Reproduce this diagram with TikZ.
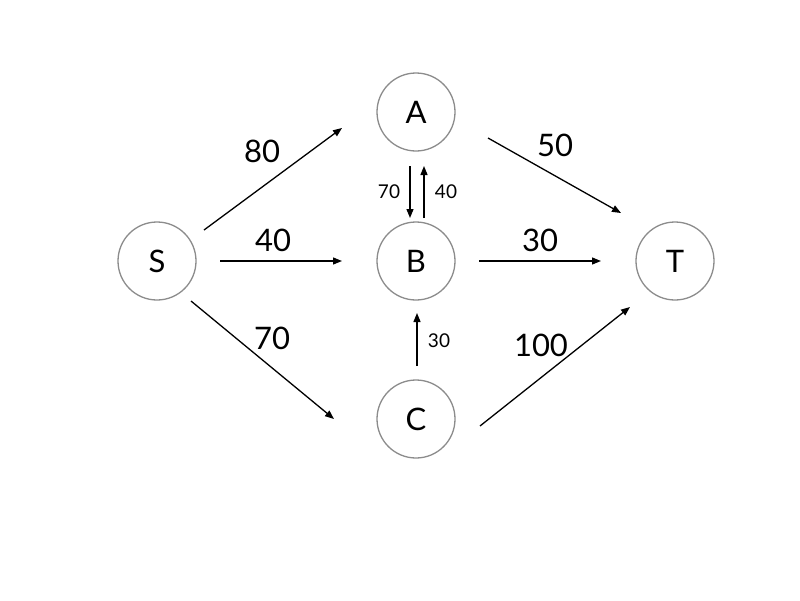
\documentclass[tikz,border=0pt]{standalone}
\usepackage{fontspec}
\setmainfont{Lato}
\usetikzlibrary{arrows.meta}
\begin{document}
\begin{tikzpicture}[x=1pt,y=-1pt,
  vert/.style={circle,draw={rgb,255:red,140;green,140;blue,140},line width=1.3pt,minimum size=78pt,inner sep=0pt,font=\fontsize{31}{33}\selectfont},
  flow/.style={-{Triangle[length=9pt,width=7pt]},line width=1.3pt,black},
  big/.style={font=\fontsize{31}{33}\selectfont},
  small/.style={font=\fontsize{19}{21}\selectfont}]
\useasboundingbox (0,0) rectangle (800,600);
\node[vert] (S) at (157,261) {S};
\node[vert] (A) at (416,112) {A};
\node[vert] (B) at (416,261) {B};
\node[vert] (C) at (416,419) {C};
\node[vert] (T) at (675,261) {T};
% arrow endpoints
\coordinate (sa1) at (204,230); \coordinate (sa2) at (342,128);
\coordinate (sb1) at (220,261); \coordinate (sb2) at (342,261);
\coordinate (sc1) at (191,301); \coordinate (sc2) at (334,419);
\coordinate (at1) at (488,138); \coordinate (at2) at (621,213);
\coordinate (bt1) at (479,261); \coordinate (bt2) at (601,261);
\coordinate (ct1) at (480,426); \coordinate (ct2) at (630,307);
\coordinate (ab1) at (410,166); \coordinate (ab2) at (410,218);
\coordinate (ba1) at (424,218); \coordinate (ba2) at (424,166);
\coordinate (cb1) at (417,366); \coordinate (cb2) at (417,313);
\draw[flow] (sa1) -- (sa2);
\draw[flow] (sb1) -- (sb2);
\draw[flow] (sc1) -- (sc2);
\draw[flow] (at1) -- (at2);
\draw[flow] (bt1) -- (bt2);
\draw[flow] (ct1) -- (ct2);
\draw[flow] (ab1) -- (ab2);
\draw[flow] (ba1) -- (ba2);
\draw[flow] (cb1) -- (cb2);
% labels
\node[big] (l1) at (262,151) {80};
\node[big] (l2) at (273,240) {40};
\node[big] (l3) at (272,338) {70};
\node[big] (l4) at (555,145) {50};
\node[big] (l5) at (540,240) {30};
\node[big] (l6) at (541,345) {100};
\node[small] (l7) at (389,192) {70};
\node[small] (l8) at (446,192) {40};
\node[small] (l9) at (439,341) {30};
\end{tikzpicture}
\end{document}
